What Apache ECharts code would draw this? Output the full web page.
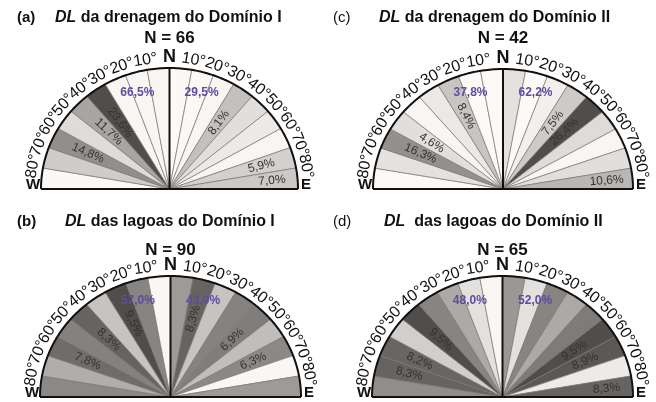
<!DOCTYPE html>
<html>
<head>
<meta charset="utf-8">
<script src="https://cdn.jsdelivr.net/npm/echarts@6/dist/echarts.min.js"></script>
<style>
  html, body { margin: 0; padding: 0; background: #fff; }
  #chart { width: 656px; height: 402px; }
</style>
</head>
<body>
<div id="chart"></div>
<script>
// 18 sectors of 10 degrees: bin 0 = W (80-90°) ... bin 8 = 0-10° W of N, bin 9 = 0-10° E of N ... bin 17 = E (80-90°)
const tickLabels = ["80°", "70°", "60°", "50°", "40°", "30°", "20°", "10°", "N", "10°", "20°", "30°", "40°", "50°", "60°", "70°", "80°"];

// (a) DL da drenagem do Domínio I
const valuesA = [0.6, 6.5, 14.8, 4.5, 11.7, 23.6, 1.0, 1.0, 1.0, 0.5, 0.5, 1.0, 8.1, 4.0, 2.5, 1.0, 5.9, 7.0];
const labeledA = [2, 4, 5, 12, 16, 17];
const totalsA = [66.5, 29.5];
const countA = 66;

// (c) DL da drenagem do Domínio II
const valuesC = [0.5, 4.0, 16.3, 4.6, 1.0, 3.0, 8.4, 0.5, 0.5, 4.0, 0.5, 2.0, 7.5, 26.4, 5.0, 1.0, 4.5, 10.6];
const labeledC = [2, 3, 6, 12, 13, 17];
const totalsC = [37.8, 62.2];
const countC = 42;

// (b) DL das lagoas do Domínio I
const valuesB = [6.3, 4.3, 7.8, 6.7, 8.3, 3.1, 9.5, 6.5, 0.3, 5.3, 8.3, 3.1, 6.6, 6.9, 3.4, 6.3, 0.3, 5.3];
const labeledB = [2, 4, 6, 10, 13, 15];
const totalsB = [57.0, 43.0];
const countB = 90;

// (d) DL das lagoas do Domínio II
const valuesD = [6.0, 8.3, 8.2, 2.5, 9.5, 6.5, 4.5, 1.5, 0.3, 5.5, 1.5, 6.5, 4.5, 7.0, 9.5, 8.9, 1.0, 8.3];
const labeledD = [1, 2, 4, 14, 15, 17];
const totalsD = [48.0, 52.0];
const countD = 65;

const FONT = "Liberation Sans, Arial, sans-serif";
const TICK_FONT = "Liberation Sans Narrow, Arial Narrow, Liberation Sans, Arial, sans-serif";

const panels = [
  { letter: "(a)", letterBold: true, title: " da drenagem do Domínio I", values: valuesA, labeled: labeledA, totals: totalsA, n: countA,
    box: [41, 68, 257, 121], letterX: 17, titleX: 55, titleY: 18, nY: 38 },
  { letter: "(c)", letterBold: false, title: " da drenagem do Domínio II", values: valuesC, labeled: labeledC, totals: totalsC, n: countC,
    box: [373, 69, 260, 120], letterX: 333, titleX: 379, titleY: 18, nY: 38 },
  { letter: "(b)", letterBold: true, title: " das lagoas do Domínio I", values: valuesB, labeled: labeledB, totals: totalsB, n: countB,
    box: [40, 276, 261, 121], letterX: 17, titleX: 65, titleY: 222, nY: 250 },
  { letter: "(d)", letterBold: false, title: "  das lagoas do Domínio II", values: valuesD, labeled: labeledD, totals: totalsD, n: countD,
    box: [372, 276, 261, 121], letterX: 333, titleX: 384, titleY: 222, nY: 250 }
];

function pct(v) {
  return v.toFixed(1).replace(".", ",") + "%";
}

function shade(v, max) {
  const L = Math.round(255 - 175 * v / max);
  return "rgb(" + L + "," + Math.max(L - 3, 0) + "," + Math.max(L - 5, 0) + ")";
}

const STEP = Math.PI / 18;

function labelRadius(i) {
  if (i === 0 || i === 17) return 0.8;
  if (i === 1 || i === 16) return 0.74;
  if (i === 2 || i === 15) return 0.7;
  return 0.67;
}

function renderSector(params, api, panel) {
  const i = api.value(0);
  const v = api.value(1);
  const a0 = Math.PI - i * STEP;
  const c = api.coord([0, 0]);
  const pts = [c];
  for (let k = 0; k <= 8; k++) {
    const a = a0 - STEP * k / 8;
    pts.push(api.coord([Math.cos(a), Math.sin(a)]));
  }
  const max = Math.max.apply(null, panel.values);
  const children = [{
    type: "polygon",
    shape: { points: pts },
    style: { fill: shade(v, max), stroke: "#7a7674", lineWidth: 0.7 }
  }];
  if (panel.labeled.indexOf(i) >= 0) {
    const am = a0 - STEP / 2;
    const r = labelRadius(i);
    const p = api.coord([r * Math.cos(am), r * Math.sin(am)]);
    let rot = Math.atan2(-(p[1] - c[1]), p[0] - c[0]);
    if (rot > Math.PI / 2) rot -= Math.PI;
    children.push({
      type: "text", x: p[0], y: p[1], rotation: rot,
      style: { text: pct(v), fill: "#333", fontSize: 12, fontFamily: FONT, align: "center", verticalAlign: "middle" }
    });
  }
  return { type: "group", children: children };
}

function renderFrame(params, api, panel) {
  const c = api.coord([0, 0]);
  const arc = [];
  for (let k = 0; k <= 180; k++) {
    const a = k * Math.PI / 180;
    arc.push(api.coord([Math.cos(a), Math.sin(a)]));
  }
  const wPt = api.coord([-1, 0]);
  const ePt = api.coord([1, 0]);
  const nPt = api.coord([0, 1]);
  const children = [
    { type: "polyline", shape: { points: arc }, style: { stroke: "#111", lineWidth: 2, fill: null } },
    { type: "line", shape: { x1: wPt[0], y1: wPt[1], x2: ePt[0], y2: ePt[1] }, style: { stroke: "#111", lineWidth: 2 } },
    { type: "line", shape: { x1: c[0], y1: c[1], x2: nPt[0], y2: nPt[1] }, style: { stroke: "#111", lineWidth: 2 } }
  ];
  tickLabels.forEach(function (t, k) {
    const phi = Math.PI - (k + 1) * STEP;
    const p = api.coord([Math.cos(phi), Math.sin(phi)]);
    const dx = p[0] - c[0], dy = p[1] - c[1];
    const len = Math.sqrt(dx * dx + dy * dy);
    const isN = t === "N";
    const off = isN ? 11 : 10;
    const q1 = api.coord([Math.cos(phi - 0.01), Math.sin(phi - 0.01)]);
    const q2 = api.coord([Math.cos(phi + 0.01), Math.sin(phi + 0.01)]);
    const rot = Math.atan2(-(q1[1] - q2[1]), q1[0] - q2[0]);
    children.push({
      type: "text", x: p[0] + dx / len * off, y: p[1] + dy / len * off, rotation: rot,
      style: {
        text: t, fill: "#111", fontFamily: isN ? FONT : TICK_FONT,
        fontSize: isN ? 18 : 16, fontWeight: isN ? "bold" : "normal",
        align: "center", verticalAlign: "middle"
      }
    });
  });
  children.push({
    type: "text", x: wPt[0] - 8, y: wPt[1] - 4,
    style: { text: "W", fill: "#111", fontFamily: FONT, fontSize: 15, fontWeight: "bold", align: "center", verticalAlign: "middle" }
  });
  children.push({
    type: "text", x: ePt[0] + 8, y: ePt[1] - 4,
    style: { text: "E", fill: "#111", fontFamily: FONT, fontSize: 15, fontWeight: "bold", align: "center", verticalAlign: "middle" }
  });
  panel.totals.forEach(function (tot, s) {
    const p = api.coord([s === 0 ? -0.25 : 0.25, 0.8]);
    children.push({
      type: "text", x: p[0], y: p[1],
      style: { text: pct(tot), fill: "#5b4ea0", fontFamily: FONT, fontSize: 12, fontWeight: "bold", align: "center", verticalAlign: "middle" }
    });
  });
  return { type: "group", children: children };
}

const grids = [], xAxes = [], yAxes = [], series = [], graphics = [];

panels.forEach(function (panel, idx) {
  const b = panel.box;
  grids.push({ left: b[0], top: b[1], width: b[2], height: b[3], containLabel: false });
  xAxes.push({ gridIndex: idx, type: "value", min: -1, max: 1, show: false });
  yAxes.push({ gridIndex: idx, type: "value", min: 0, max: 1, show: false });
  series.push({
    type: "custom", xAxisIndex: idx, yAxisIndex: idx, z: 1,
    data: panel.values.map(function (v, i) { return [i, v]; }),
    renderItem: function (params, api) { return renderSector(params, api, panel); }
  });
  series.push({
    type: "custom", xAxisIndex: idx, yAxisIndex: idx, z: 2,
    data: [[0, 0]],
    renderItem: function (params, api) { return renderFrame(params, api, panel); }
  });
  const cx = b[0] + b[2] / 2;
  graphics.push({
    type: "text", x: panel.letterX, y: panel.titleY,
    style: { text: panel.letter, fill: "#111", fontFamily: FONT, fontSize: 15, fontWeight: panel.letterBold ? "bold" : "normal", align: "left", verticalAlign: "middle" }
  });
  graphics.push({
    type: "text", x: panel.titleX, y: panel.titleY,
    style: {
      text: "{i|DL}{r|" + panel.title + "}", fill: "#111", fontFamily: FONT, fontSize: 16, fontWeight: "bold",
      align: "left", verticalAlign: "middle",
      rich: {
        i: { fontStyle: "italic", fontWeight: "bold", fontSize: 16, fontFamily: FONT, fill: "#111" },
        r: { fontWeight: "bold", fontSize: 16, fontFamily: FONT, fill: "#111" }
      }
    }
  });
  graphics.push({
    type: "text", x: cx, y: panel.nY,
    style: { text: "N = " + panel.n, fill: "#111", fontFamily: FONT, fontSize: 17, fontWeight: "bold", align: "center", verticalAlign: "middle" }
  });
});

const chart = echarts.init(document.getElementById("chart"));
chart.setOption({
  animation: false,
  backgroundColor: "#fff",
  grid: grids,
  xAxis: xAxes,
  yAxis: yAxes,
  series: series,
  graphic: graphics
});
</script>
</body>
</html>
